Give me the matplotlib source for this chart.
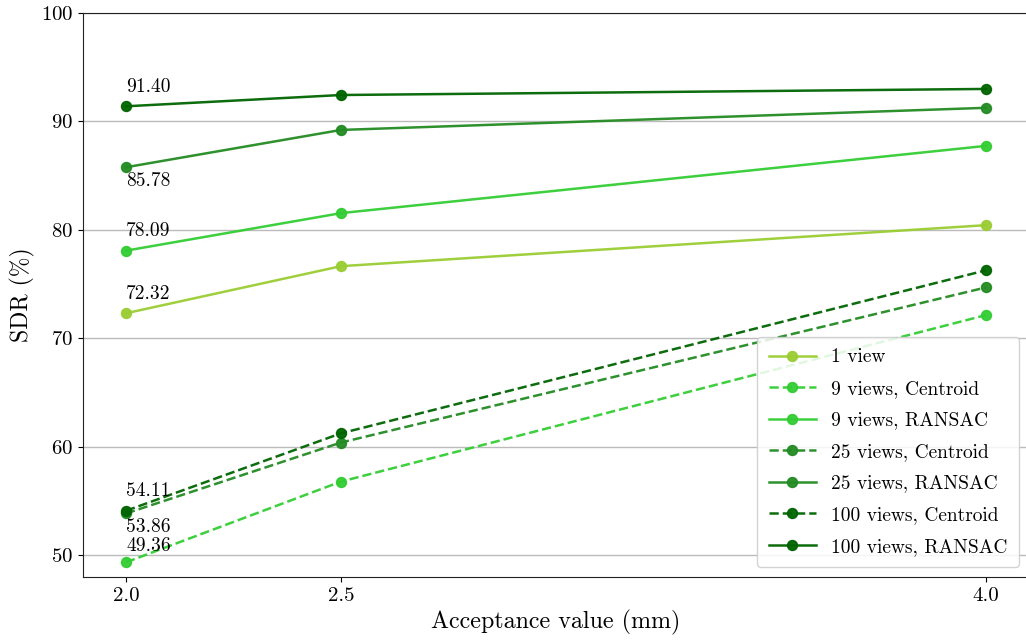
import matplotlib
matplotlib.use("Agg")
import matplotlib.pyplot as plt

plt.rcParams['font.family'] = ['cmr10', 'DejaVu Serif']
plt.rcParams['axes.formatter.use_mathtext'] = True
plt.rcParams['mathtext.fontset'] = 'cm'

x_values = [2.0, 2.5, 4.0]
labels = ["1 view", "9 views, Centroid", "9 views, RANSAC", "25 views, Centroid",
          "25 views, RANSAC", "100 views, Centroid", "100 views, RANSAC"]
one_view = [72.32, 76.66, 80.44]
nine_centroid = [49.36, 56.8, 72.15]
nine_ransac = [78.09, 81.55, 87.75]
tf_centroid = [53.86, 60.4, 74.7]
tf_ransac = [85.78, 89.22, 91.26]
hundred_centroid = [54.11, 61.25, 76.28]
hundred_ransac = [91.40, 92.44, 93.0]

series = [one_view, nine_centroid, nine_ransac, tf_centroid, tf_ransac,
          hundred_centroid, hundred_ransac]
colors = ['yellowgreen', 'limegreen', 'limegreen', 'forestgreen', 'forestgreen',
          'darkgreen', 'darkgreen']
styles = ['-', '--', '-', '--', '-', '--', '-']
annot_offsets = [7.5, 5.5, 7.5, -3.0, -3.5, 7.5, 7.5]

fig = plt.figure(figsize=(10.26, 6.41), dpi=100)
# axes extends slightly past the right edge of the figure, as in the reference
ax = fig.add_axes([83 / 1026, 0.0998, 946 / 1026, 0.8799])

for vals, lab, c, ls, off in zip(series, labels, colors, styles, annot_offsets):
    ax.plot(x_values, vals, ls, color=c, lw=1.8, marker='o', markersize=7,
            markerfacecolor=c, markeredgecolor=c, markeredgewidth=1.2,
            label=lab, alpha=0.95)
    txt = f"{vals[0]:.2f}"
    ax.annotate(txt, (x_values[0], vals[0]), xytext=(0, off),
                textcoords='offset points', ha='left',
                va='top' if off < 0 else 'bottom', fontsize=14)

ax.set_xlim(1.9, 4.1)
ax.set_ylim(48, 100)
ax.set_xticks(x_values)
ax.set_xticklabels(["2.0", "2.5", "4.0"])
ax.set_yticks([50, 60, 70, 80, 90, 100])
ax.tick_params(labelsize=15)
ax.yaxis.grid(True, color='#bbbbbb', lw=1.0)
ax.set_axisbelow(True)
ax.spines['right'].set_visible(False)
for s in ['left', 'top', 'bottom']:
    ax.spines[s].set_color('#222222')
ax.set_xlabel("Acceptance value (mm)", fontsize=17.3)
ax.set_ylabel("SDR (%)", fontsize=17)
ax.legend(loc='lower right', fontsize=14, framealpha=0.85, borderpad=0.6,
          handlelength=2.4, handletextpad=0.8, labelspacing=0.7,
          borderaxespad=0.5)

fig.savefig("out.png", dpi=100)
